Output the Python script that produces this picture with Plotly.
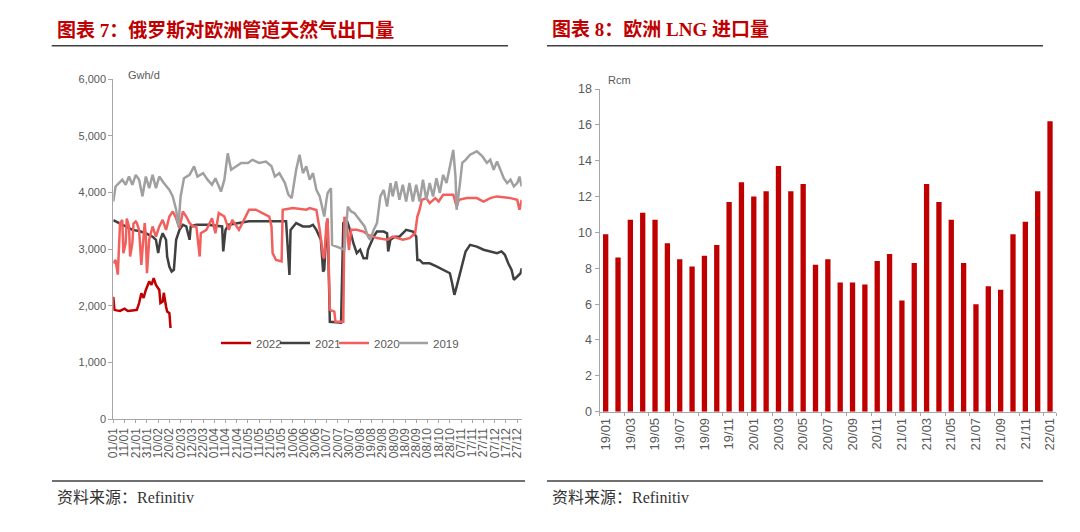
import plotly.graph_objects as go

# ---- left chart: Russian pipeline gas exports to Europe (Gwh/d), by day of year ----
day_labels = ["01/01", "11/01", "21/01", "31/01", "10/02", "20/02", "02/03", "12/03", "22/03",
              "01/04", "11/04", "21/04", "01/05", "11/05", "21/05", "31/05", "10/06", "20/06",
              "30/06", "10/07", "20/07", "30/07", "09/08", "19/08", "29/08", "08/09", "18/09",
              "28/09", "08/10", "18/10", "28/10", "07/11", "17/11", "27/11", "07/12", "17/12",
              "27/12"]

days_2022 = [1, 2, 4, 7, 11, 14, 18, 22, 24, 26, 28, 30, 33, 35, 37, 39, 42, 43, 45, 46, 48, 49, 51, 52]
gas_2022 = [2160, 1930, 1920, 1910, 1950, 1910, 1920, 1930, 2050, 2220, 2140, 2280, 2430, 2370, 2490,
            2370, 2280, 2050, 2075, 2230, 1990, 1900, 1870, 1610]

days_2021 = [1, 6, 12, 18, 24, 30, 36, 39, 41, 43, 45, 48, 49, 51, 53, 55, 57, 60, 63, 66,
             69, 70, 75, 85, 98, 99, 101, 104, 122, 140, 155, 158, 159, 164, 170, 176, 179, 182, 186, 188,
             189, 191, 192, 194, 204, 206, 209, 212, 215, 218, 221, 224, 227, 228, 230, 233, 236, 242, 245, 246,
             248, 252, 256, 262, 268, 271, 272, 274, 277, 283, 289, 295, 301, 303, 305, 307, 310, 313, 315, 319,
             325, 331, 337, 343, 347, 350, 353, 356, 358, 361, 364, 365]
gas_2021 = [3510, 3455, 3400, 3340, 3320, 3280, 3220, 3165, 2930, 3165, 3280, 3165, 2870, 2690, 2605, 2635, 3165, 3340, 3430, 3400,
            3165, 3400, 3430, 3430, 3400, 2960, 3340, 3430, 3490, 3490, 3490, 2545, 3340, 3460, 3400, 3400, 3430, 3340, 3165, 2605,
            2635, 3340, 3515, 1720, 1705, 3460, 3515, 3340, 3105, 2930, 2990, 2840, 2840, 2990, 3075, 3220, 3310, 3310, 3280, 2960,
            3165, 3220, 3220, 3340, 3310, 3220, 2810, 2810, 2750, 2750, 2695, 2635, 2575, 2400, 2195, 2340, 2575, 2810, 2960, 3075,
            3045, 2990, 2960, 2930, 2960, 2900, 2750, 2635, 2460, 2515, 2575, 2665]

days_2020 = [1, 3, 5, 7, 9, 10, 12, 13, 15, 16, 18, 19, 21, 22, 24, 26, 27, 29, 30, 31,
             33, 36, 39, 42, 45, 48, 51, 54, 57, 60, 63, 66, 69, 72, 75, 78, 79, 84, 89, 92,
             95, 100, 104, 107, 113, 118, 122, 128, 134, 140, 142, 143, 146, 151, 152, 161, 173, 176, 182, 185,
             188, 189, 191, 192, 194, 198, 199, 206, 207, 209, 211, 213, 218, 224, 228, 236, 245, 250, 259, 265,
             270, 272, 274, 276, 280, 283, 288, 291, 295, 304, 307, 309, 316, 325, 331, 337, 343, 355, 361, 363,
             365]
gas_2020 = [2750, 2810, 2550, 3455, 3515, 2930, 3105, 3540, 3400, 2870, 3105, 3450, 3485, 3460, 3340, 2720, 2990, 3460, 3220, 2575,
            3165, 3400, 3220, 3400, 3515, 3340, 3575, 3665, 3545, 3370, 3665, 3575, 3460, 3400, 3400, 2870, 3280, 3340, 3545, 3280,
            3635, 3575, 3340, 3515, 3340, 3545, 3695, 3695, 3635, 3575, 3400, 2930, 2810, 2785, 3695, 3725, 3695, 3725, 3690, 3340,
            2870, 2840, 3460, 3545, 1930, 1900, 1720, 1720, 3570, 3460, 2985, 3340, 3340, 3310, 3250, 3195, 3165, 3220, 3165, 3195,
            3280, 3575, 3695, 3870, 3900, 3810, 3900, 3840, 3960, 3960, 3750, 3870, 3900, 3900, 3840, 3900, 3930, 3900, 3870, 3695,
            3870]

days_2019 = [1, 3, 6, 9, 12, 15, 18, 21, 24, 27, 30, 33, 36, 39, 42, 46, 51, 54, 57, 59,
             61, 64, 69, 73, 76, 81, 85, 89, 92, 97, 100, 103, 106, 110, 115, 121, 125, 131, 137, 142,
             145, 149, 154, 157, 160, 164, 167, 170, 173, 176, 179, 182, 185, 186, 189, 191, 192, 195, 196, 200,
             204, 207, 210, 213, 216, 221, 225, 228, 230, 233, 236, 239, 242, 245, 248, 250, 253, 256, 259, 262,
             265, 268, 271, 274, 277, 280, 283, 286, 289, 292, 295, 298, 301, 304, 306, 307, 310, 312, 315, 319,
             325, 330, 334, 337, 340, 343, 346, 349, 352, 355, 358, 361, 363, 365]
gas_2019 = [3840, 4105, 4165, 4225, 4135, 4280, 4135, 4310, 4225, 3930, 4280, 4075, 4310, 4075, 4280, 4165, 4045, 3930, 3695, 3400,
            3930, 4250, 4310, 4460, 4280, 4340, 4225, 4135, 4250, 4015, 4225, 4690, 4400, 4460, 4520, 4520, 4575, 4520, 4545, 4460,
            4280, 4340, 4165, 3960, 3900, 4400, 4665, 4340, 4460, 4225, 4340, 4045, 3930, 3840, 3575, 3870, 3990, 4075, 3075, 3045,
            3015, 2990, 3750, 3665, 3635, 3515, 3400, 3220, 3165, 3340, 3460, 3930, 4045, 3750, 4165, 3930, 4195, 3870, 4135, 3840,
            4165, 3840, 4135, 3840, 4225, 3870, 4165, 3930, 4250, 3990, 4310, 4165, 4460, 4750, 4280, 3695, 4165, 4520, 4575, 4665,
            4725, 4635, 4520, 4575, 4400, 4545, 4400, 4250, 4165, 4225, 4105, 4165, 4280, 4105]

# ---- right chart: Europe LNG imports (Bcm), monthly ----
months = ["19/01", "19/02", "19/03", "19/04", "19/05", "19/06", "19/07", "19/08", "19/09", "19/10",
          "19/11", "19/12", "20/01", "20/02", "20/03", "20/04", "20/05", "20/06", "20/07", "20/08",
          "20/09", "20/10", "20/11", "20/12", "21/01", "21/02", "21/03", "21/04", "21/05", "21/06",
          "21/07", "21/08", "21/09", "21/10", "21/11", "21/12", "22/01"]
lng = [9.9, 8.6, 10.7, 11.1, 10.7, 9.4, 8.5, 8.1, 8.7, 9.3,
       11.7, 12.8, 12.0, 12.3, 13.7, 12.3, 12.7, 8.2, 8.5, 7.2,
       7.2, 7.1, 8.4, 8.8, 6.2, 8.3, 12.7, 11.7, 10.7, 8.3,
       6.0, 7.0, 6.8, 9.9, 10.6, 12.3, 16.2]

W, H = 1080, 532
AXIS = "#A6A6A6"
TXT = "#595959"
SANS = "Liberation Sans, Arial"
SERIF = "Liberation Serif, Noto Sans CJK SC"


def px(x):
    return x / W


def py(y):
    return 1 - y / H


fig = go.Figure()

series = [
    ("2022", days_2022, gas_2022, "#C00000"),
    ("2021", days_2021, gas_2021, "#404040"),
    ("2020", days_2020, gas_2020, "#F25F5C"),
    ("2019", days_2019, gas_2019, "#A0A0A0"),
]
for name, d, v, c in series:
    fig.add_trace(go.Scatter(
        x=d, y=v, mode="lines", name=name,
        line=dict(color=c, width=2.5),
        xaxis="x", yaxis="y"
    ))

# empty legend slot so the last legend label is not clipped
fig.add_trace(go.Scatter(
    x=[None], y=[None], mode="lines", name=" ",
    line=dict(color="rgba(0,0,0,0)", width=0), hoverinfo="skip",
    xaxis="x", yaxis="y"
))

fig.add_trace(go.Bar(
    x=months, y=lng, marker=dict(color="#C00000", line=dict(width=0)),
    showlegend=False, xaxis="x2", yaxis="y2"
))

# automargin off: the template would otherwise grow the margins and squeeze everything
axis_common = dict(
    showline=True, linecolor=AXIS, linewidth=1, showgrid=False, zeroline=False,
    ticks="outside", tickcolor=AXIS, ticklen=4, automargin=False,
    tickfont=dict(family=SANS, size=11, color=TXT),
)

fig.update_layout(
    width=W, height=H,
    margin=dict(l=0, r=0, t=0, b=0),
    paper_bgcolor="white",
    plot_bgcolor="white",
    bargap=0.57,
    xaxis=dict(
        axis_common, domain=[px(113.3), px(521.7)], anchor="y",
        range=[1, 365], tickmode="array",
        tickvals=[1 + 10 * i for i in range(len(day_labels))], ticktext=day_labels,
        tickangle=-90, ticklen=3, tickfont=dict(family=SANS, size=12, color=TXT),
    ),
    yaxis=dict(
        axis_common, domain=[py(419.3), py(79)], anchor="x",
        range=[0, 6000], dtick=1000, tickformat=",",
    ),
    xaxis2=dict(
        axis_common, domain=[px(599.5), px(1056.2)], anchor="y2",
        type="category", tickmode="array", tickvals=months[::2], ticktext=months[::2],
        tickson="boundaries", tickangle=-90, ticklen=3,
        tickfont=dict(family=SANS, size=13, color=TXT),
    ),
    yaxis2=dict(
        axis_common, domain=[py(411.7), py(89)], anchor="x2",
        range=[0, 18], dtick=2, tickfont=dict(family=SANS, size=12.5, color=TXT),
    ),
    legend=dict(
        orientation="h", x=px(216), y=py(343), xanchor="left", yanchor="middle",
        font=dict(family=SANS, size=11.5, color=TXT),
        bgcolor="rgba(0,0,0,0)", entrywidth=14, entrywidthmode="pixels",
        tracegroupgap=0,
    ),
)

# titles, rules and sources
titles = [
    (55, "图表 7：俄罗斯对欧洲管道天然气出口量", 51.7, 508),
    (550, "图表 8：欧洲 LNG 进口量", 547, 1043),
]
for x0, text, l0, l1 in titles:
    fig.add_annotation(
        x=px(x0), y=py(30), xref="paper", yref="paper", text="<b>" + text + "</b>",
        showarrow=False, xanchor="left", yanchor="middle",
        font=dict(family=SERIF, size=19, color="#C00000"),
    )
    fig.add_shape(type="line", xref="paper", yref="paper",
                  x0=px(l0), x1=px(l1), y0=py(45.7), y1=py(45.7),
                  line=dict(color="#404040", width=1.5))

sources = [(55, 52, 525), (550, 547, 1043)]
for x0, l0, l1 in sources:
    fig.add_shape(type="line", xref="paper", yref="paper",
                  x0=px(l0), x1=px(l1), y0=py(481), y1=py(481),
                  line=dict(color="#404040", width=1.5))
    fig.add_annotation(
        x=px(x0), y=py(497), xref="paper", yref="paper", text="资料来源：Refinitiv",
        showarrow=False, xanchor="left", yanchor="middle",
        font=dict(family=SERIF, size=16, color="#333333"),
    )

# unit labels
for x0, y0, text in [(126, 75, "Gwh/d"), (606, 80, "Rcm")]:
    fig.add_annotation(
        x=px(x0), y=py(y0), xref="paper", yref="paper", text=text,
        showarrow=False, xanchor="left", yanchor="middle",
        font=dict(family=SANS, size=11, color=TXT),
    )

# drop the default page margin so the figure sits at the window's corner
fig.write_html("out.html", config={"displayModeBar": False},
               post_script="document.body.style.margin='0';")
